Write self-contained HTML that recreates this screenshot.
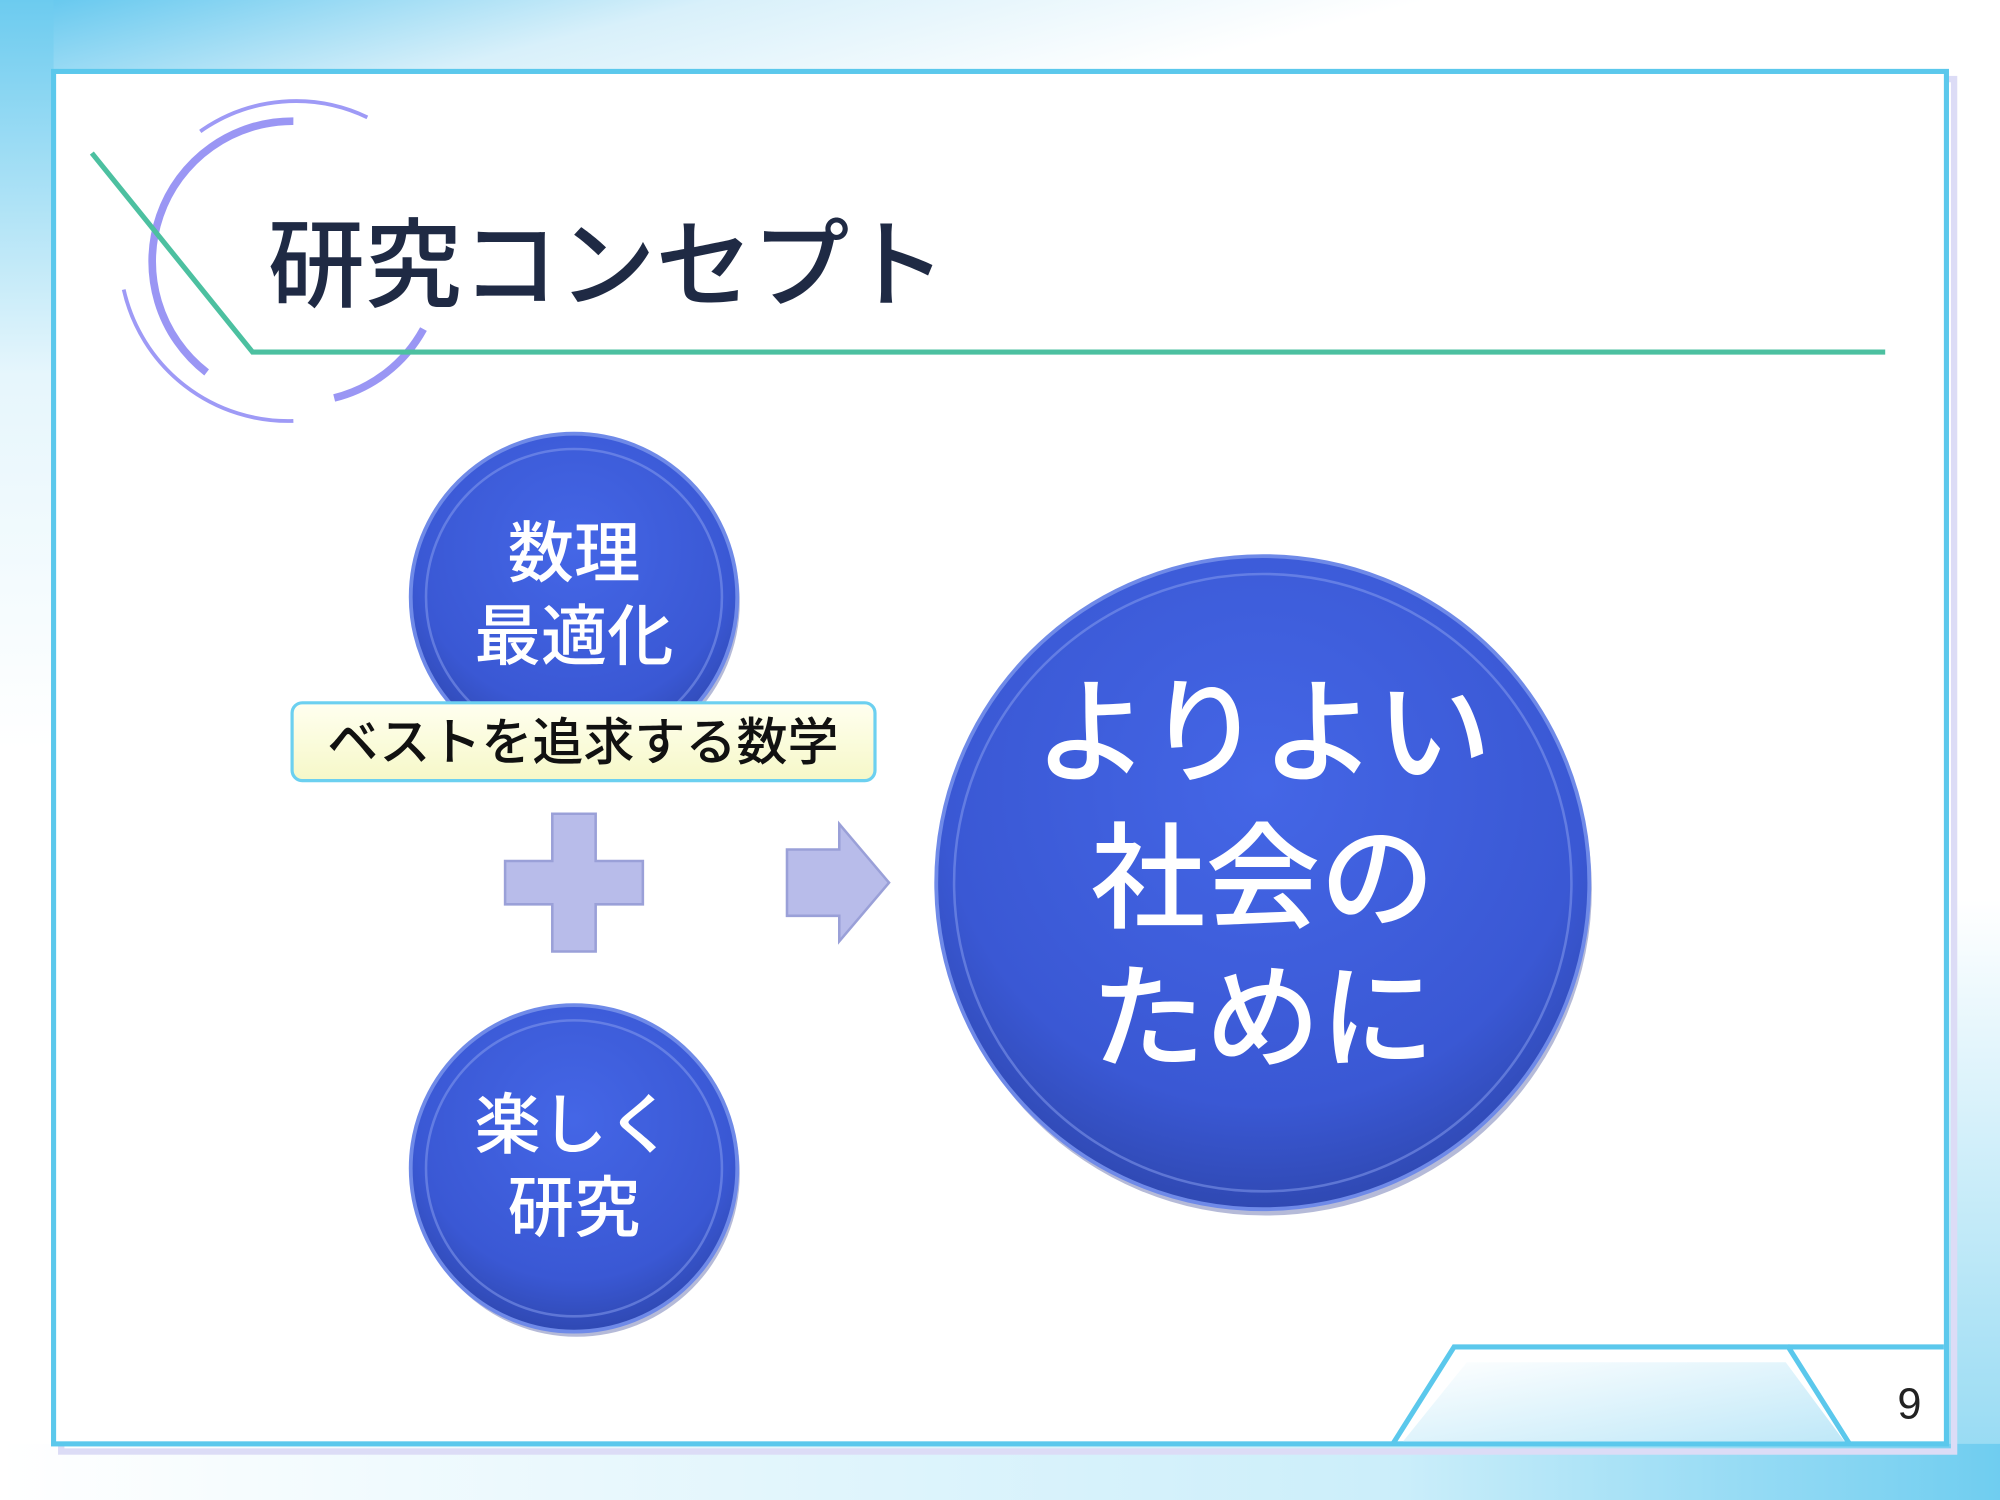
<!DOCTYPE html>
<html><head><meta charset="utf-8"><style>
html,body{margin:0;padding:0;background:#fff;}
svg{display:block;}
text{font-family:"Liberation Sans","Noto Sans CJK JP",sans-serif;}
</style></head><body>
<svg width="2000" height="1500" viewBox="0 0 1568 1176" xmlns="http://www.w3.org/2000/svg">
<defs>
<linearGradient id="topbg" x1="0" y1="0" x2="1" y2="0.15">
<stop offset="0" stop-color="#5fc6ee"/><stop offset="0.35" stop-color="#d8f0fa"/><stop offset="0.7" stop-color="#ffffff"/></linearGradient>
<linearGradient id="leftbg" x1="0" y1="0" x2="0" y2="1">
<stop offset="0" stop-color="#6ccbef"/><stop offset="0.25" stop-color="#e6f6fc"/><stop offset="0.5" stop-color="#ffffff"/></linearGradient>
<linearGradient id="brbg" x1="0" y1="0" x2="1" y2="0">
<stop offset="0" stop-color="#ffffff"/><stop offset="0.7" stop-color="#cbeefa"/><stop offset="1" stop-color="#6fcdf0"/></linearGradient>
<linearGradient id="rbg" x1="0" y1="0" x2="0" y2="1">
<stop offset="0" stop-color="#ffffff"/><stop offset="0.6" stop-color="#ffffff"/><stop offset="1" stop-color="#8fd8f2"/></linearGradient>
<linearGradient id="tab" x1="0" y1="0" x2="1" y2="1">
<stop offset="0" stop-color="#ffffff"/><stop offset="1" stop-color="#bfe8f8"/></linearGradient>
<radialGradient id="ball" cx="0.5" cy="0.35" r="0.7">
<stop offset="0" stop-color="#4466e6"/><stop offset="0.7" stop-color="#3a58d4"/><stop offset="1" stop-color="#2c44a8"/></radialGradient>
<linearGradient id="lbl" x1="0" y1="0" x2="0" y2="1">
<stop offset="0" stop-color="#fffff0"/><stop offset="1" stop-color="#f6f8c8"/></linearGradient>
</defs>
<rect width="1568" height="1176" fill="#fff"/>
<rect width="1568" height="60" fill="url(#topbg)"/>
<rect width="42" height="1176" fill="url(#leftbg)"/>
<rect x="1526" y="0" width="42" height="1176" fill="url(#rbg)"/>
<rect x="0" y="1132" width="1568" height="44" fill="url(#brbg)"/>
<!-- frame shadow -->
<rect x="48" y="62" width="1484" height="1076" fill="none" stroke="#dcdcf6" stroke-width="5"/>
<rect x="42" y="56" width="1484" height="1076" fill="#fff" stroke="#5bc8ec" stroke-width="4"/>
<!-- bottom right tab -->
<polygon points="1100,1130 1150,1068 1400,1068 1446,1130" fill="url(#tab)"/>
<polyline points="1092,1132 1140,1056 1402,1056 1450,1132" fill="none" stroke="#5bc8ec" stroke-width="4"/>
<line x1="1402" y1="1056" x2="1524" y2="1056" stroke="#5bc8ec" stroke-width="4"/>
<text x="1497" y="1112" font-size="34" text-anchor="middle" font-family="Liberation Serif,serif" fill="#222">9</text>
<!-- arcs -->
<path d="M157,103 A130,130 0 0 1 288,92" fill="none" stroke="#9e9af6" stroke-width="3"/>
<path d="M97,227 A132,132 0 0 0 230,330" fill="none" stroke="#9e9af6" stroke-width="3"/>
<path d="M230,95 A110,110 0 0 0 162,292" fill="none" stroke="#9a96f4" stroke-width="6"/>
<path d="M262,312 A110,110 0 0 0 332,258" fill="none" stroke="#9a96f4" stroke-width="6"/>
<!-- green line -->
<polyline points="72,120 198,276 1478,276" fill="none" stroke="#4cc0a0" stroke-width="4"/>
<text x="210" y="235" font-size="76" font-weight="500" fill="#1f2a44">研究コンセプト</text>
<!-- circles -->
<circle cx="452" cy="472" r="128" fill="#2a3a90" opacity="0.35"/>
<circle cx="450" cy="468" r="128" fill="url(#ball)" stroke="#6f8ae8" stroke-width="3"/>
<circle cx="450" cy="468" r="116" fill="none" stroke="#8aa0f0" stroke-width="2" opacity="0.5"/>
<text x="450" y="452" font-size="52" font-weight="500" fill="#fff" text-anchor="middle">数理</text>
<text x="450" y="517" font-size="52" font-weight="500" fill="#fff" text-anchor="middle">最適化</text>
<circle cx="452" cy="920" r="128" fill="#2a3a90" opacity="0.35"/>
<circle cx="450" cy="916" r="128" fill="url(#ball)" stroke="#6f8ae8" stroke-width="3"/>
<circle cx="450" cy="916" r="116" fill="none" stroke="#8aa0f0" stroke-width="2" opacity="0.5"/>
<text x="450" y="900" font-size="52" font-weight="500" fill="#fff" text-anchor="middle">楽しく</text>
<text x="450" y="965" font-size="52" font-weight="500" fill="#fff" text-anchor="middle">研究</text>
<circle cx="992" cy="697" r="256" fill="#2a3a90" opacity="0.35"/>
<circle cx="990" cy="692" r="256" fill="url(#ball)" stroke="#6f8ae8" stroke-width="3"/>
<circle cx="990" cy="692" r="242" fill="none" stroke="#8aa0f0" stroke-width="2" opacity="0.5"/>
<text x="990" y="606" font-size="90" font-weight="500" fill="#fff" text-anchor="middle">よりよい</text>
<text x="990" y="720" font-size="90" font-weight="500" fill="#fff" text-anchor="middle">社会の</text>
<text x="990" y="830" font-size="90" font-weight="500" fill="#fff" text-anchor="middle">ために</text>
<!-- label -->
<rect x="229" y="551" width="457" height="61" rx="8" fill="url(#lbl)" stroke="#6cd0f0" stroke-width="2.5"/>
<text x="457" y="596" font-size="40" font-weight="500" fill="#111" text-anchor="middle">ベストを追求する数学</text>
<!-- plus -->
<path d="M433,638 H467 V675 H504 V709 H467 V746 H433 V709 H396 V675 H433 Z" fill="#b8bcea" stroke="#9aa0d8" stroke-width="2"/>
<!-- arrow -->
<path d="M617,666 H658 V646 L697,692 L658,738 V718 H617 Z" fill="#b8bcea" stroke="#9aa0d8" stroke-width="2"/>
</svg>
</body></html>
